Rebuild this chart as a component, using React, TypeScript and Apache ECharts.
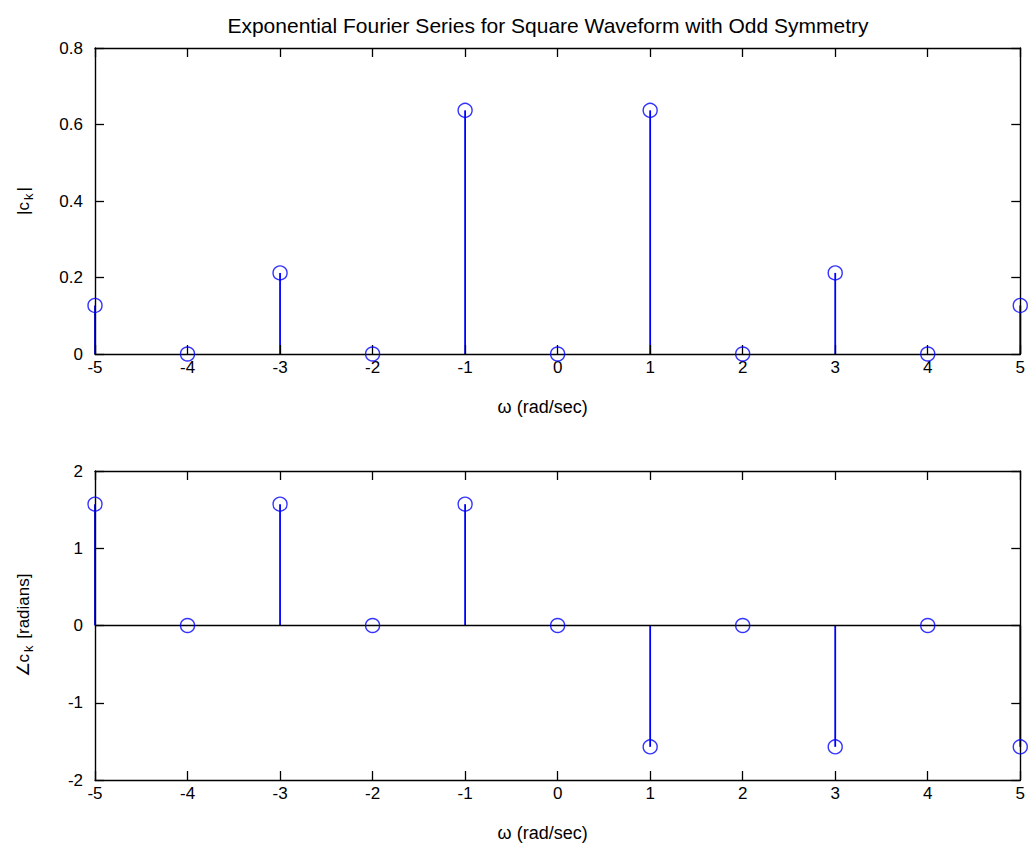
import React, { useEffect, useRef } from "react";
import * as echarts from "echarts";

const omega = [-5, -4, -3, -2, -1, 0, 1, 2, 3, 4, 5];
const magnitude = [0.127, 0, 0.212, 0, 0.637, 0, 0.637, 0, 0.212, 0, 0.127];
const phase = [1.5708, 0, 1.5708, 0, 1.5708, 0, -1.5708, 0, -1.5708, 0, -1.5708];
const titleText = "Exponential Fourier Series for Square Waveform with Odd Symmetry";
const xName = "ω (rad/sec)";

const FONT = "Liberation Sans, Arial, sans-serif";
const BLUE = "#0000ff";

function xAxes(gridIndex: number) {
  const common = {
    type: "value",
    gridIndex,
    min: -5,
    max: 5,
    interval: 1,
    splitLine: { show: false },
    axisLine: { show: true, onZero: false, lineStyle: { color: "#000", width: 1.4 } },
    axisTick: { show: true, inside: true, length: 9, lineStyle: { color: "#000", width: 1.3 } },
    z: 5,
  };
  return [
    {
      ...common,
      position: "bottom",
      name: xName,
      nameLocation: "middle",
      nameGap: 44,
      nameTextStyle: { fontFamily: FONT, fontSize: 18, color: "#000", padding: [0, 30, 0, 0] },
      axisLabel: { fontFamily: FONT, fontSize: 17, color: "#000", margin: 5 },
    },
    { ...common, position: "top", axisLabel: { show: false } },
  ];
}

function yAxes(gridIndex: number, min: number, max: number, interval: number, name: string, decimals: boolean) {
  const common = {
    type: "value",
    gridIndex,
    min,
    max,
    interval,
    splitLine: { show: false },
    axisLine: { show: true, onZero: false, lineStyle: { color: "#000", width: 1.4 } },
    axisTick: { show: true, inside: true, length: 9, lineStyle: { color: "#000", width: 1.3 } },
    z: 5,
  };
  return [
    {
      ...common,
      position: "left",
      name,
      nameLocation: "middle",
      nameGap: 60,
      nameRotate: 90,
      nameTextStyle: {
        fontFamily: FONT,
        fontSize: 17,
        color: "#000",
        rich: { s: { fontFamily: FONT, fontSize: 13, color: "#000", verticalAlign: "bottom", padding: [10, 2, 0, 2] } },
      },
      axisLabel: {
        fontFamily: FONT,
        fontSize: 17,
        color: "#000",
        margin: 12,
        formatter: (v: number) => (decimals && v !== 0 ? v.toFixed(1) : String(v)),
      },
    },
    { ...common, position: "right", axisLabel: { show: false } },
  ];
}

function stemSeries(values: number[], xi: number, yi: number, baseline: boolean) {
  const pts = omega.map((w, i) => [w, values[i]]);
  const bar: any = {
    type: "bar",
    xAxisIndex: xi,
    yAxisIndex: yi,
    data: pts,
    barWidth: 1.8,
    itemStyle: { color: BLUE },
    z: 2,
  };
  if (baseline) {
    bar.markLine = {
      silent: true,
      symbol: "none",
      label: { show: false },
      lineStyle: { color: "#000", type: "solid", width: 1.4 },
      data: [{ yAxis: 0 }],
    };
  }
  return [
    bar,
    {
      type: "scatter",
      xAxisIndex: xi,
      yAxisIndex: yi,
      data: pts,
      symbol: "circle",
      symbolSize: 14,
      itemStyle: { color: "rgba(0,0,0,0)", borderColor: BLUE, borderWidth: 1.4 },
      z: 6,
    },
  ];
}

export default function App() {
  const ref = useRef<HTMLDivElement>(null);
  useEffect(() => {
    if (!ref.current) return;
    const chart = echarts.init(ref.current, undefined, { renderer: "svg" });
    chart.setOption({
      animation: false,
      backgroundColor: "#fff",
      title: {
        text: titleText,
        left: 543,
        textAlign: "center",
        top: 10,
        textStyle: { fontFamily: FONT, fontSize: 21, fontWeight: "normal", color: "#000" },
      },
      grid: [
        { left: 95, right: 7, top: 48, height: 306 },
        { left: 95, right: 7, top: 471, height: 309 },
      ],
      xAxis: [...xAxes(0), ...xAxes(1)],
      yAxis: [
        ...yAxes(0, 0, 0.8, 0.2, "|c{s|k}|", true),
        ...yAxes(1, -2, 2, 1, "∠c{s|k} [radians]", false),
      ],
      series: [...stemSeries(magnitude, 0, 0, false), ...stemSeries(phase, 2, 2, true)],
    });
    return () => chart.dispose();
  }, []);
  return (
    <div
      ref={ref}
      style={{ position: "fixed", left: 0, top: 0, width: 1028, height: 843, background: "#fff" }}
    />
  );
}
